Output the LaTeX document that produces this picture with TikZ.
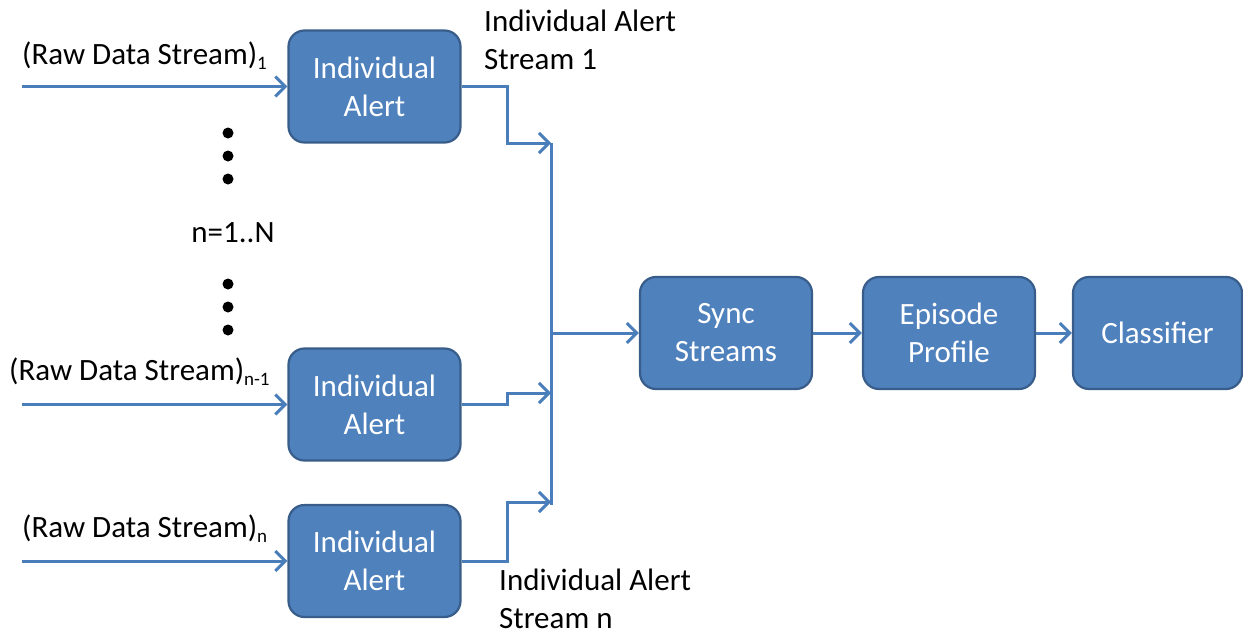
\documentclass[tikz,border=0pt]{standalone}
\usepackage{fontspec}
\setmainfont{Carlito}
\usetikzlibrary{arrows.meta}
\definecolor{boxfill}{HTML}{4F81BD}
\definecolor{boxedge}{HTML}{385D8A}
\definecolor{wire}{HTML}{4A7EBB}
\newcommand\lowidx[1]{\raisebox{-5pt}{\fontsize{19}{19}\selectfont #1}}
\tikzset{
  block/.style={rectangle, rounded corners=16pt, draw=boxedge, line width=2.2pt,
    fill=boxfill, text=white, minimum width=172pt, minimum height=112pt,
    align=center, font=\fontsize{31}{38}\selectfont, inner sep=0pt},
  label text/.style={font=\fontsize{31}{38}\selectfont, inner sep=0pt, text=black},
  flow/.style={draw=wire, line width=3pt,
    -{Straight Barb[length=10pt,width=20pt,line width=3pt]}},
  wireline/.style={draw=wire, line width=3pt},
  dot/.style={circle, fill=black, inner sep=0pt, minimum size=11pt}
}
\begin{document}
\begin{tikzpicture}[x=1pt,y=-1pt]
\useasboundingbox (0,0) rectangle (1243,637);

% alert generators
\node[block] (a1) at (374.5,86.5) {Individual\\Alert};
\node[block] (a2) at (374.5,404.5) {Individual\\Alert};
\node[block] (a3) at (374.5,561) {Individual\\Alert};

% downstream chain
\node[block] (sync) at (726,333) {Sync\\Streams};
\node[block] (epi) at (949,333) {Episode\\Profile};
\node[block, minimum width=169pt] (cls) at (1157.5,333) {Classifier};

% raw input streams
\coordinate (in1) at (22,86.5);
\coordinate (in2) at (22,404.5);
\coordinate (in3) at (22,561);
\draw[flow] (in1) -- (a1.west);
\draw[flow] (in2) -- (a2.west);
\draw[flow] (in3) -- (a3.west);

\node[label text, anchor=base west] (r1) at (22,64) {(Raw Data Stream)\lowidx{1}};
\node[label text, anchor=base west] (r2) at (9,380) {(Raw Data Stream)\lowidx{n-1}};
\node[label text, anchor=base west] (r3) at (22,537) {(Raw Data Stream)\lowidx{n}};

% collecting bus
\coordinate (bustop) at (551,143);
\coordinate (busbot) at (551,505);
\coordinate (busmid) at (551,333);
\coordinate (j1) at (507,86.5);
\coordinate (j2) at (507,404.5);
\coordinate (j3) at (507,561);
\coordinate (t2) at (551,393);
\coordinate (t3) at (551,502);

\draw[flow] (a1.east) -- (j1) |- (bustop);
\draw[flow] (a2.east) -- (j2) |- (t2);
\draw[flow] (a3.east) -- (j3) |- (t3);
\draw[wireline] (bustop) -- (busbot);
\draw[flow] (busmid) -- (sync.west);
\draw[flow] (sync.east) -- (epi.west);
\draw[flow] (epi.east) -- (cls.west);

% stream labels
\node[label text, anchor=north west, align=left] (s1) at (484,10) {Individual Alert\\Stream 1};
\node[label text, anchor=north west, align=left] (sn) at (499,569) {Individual Alert\\Stream n};

% elided streams
\node[dot] (d1) at (228,133) {};
\node[dot] (d2) at (228,156) {};
\node[dot] (d3) at (228,179) {};
\node[label text] (nr) at (233,233) {n=1..N};
\node[dot] (d4) at (228,284) {};
\node[dot] (d5) at (228,307) {};
\node[dot] (d6) at (228,330) {};
\end{tikzpicture}
\end{document}
